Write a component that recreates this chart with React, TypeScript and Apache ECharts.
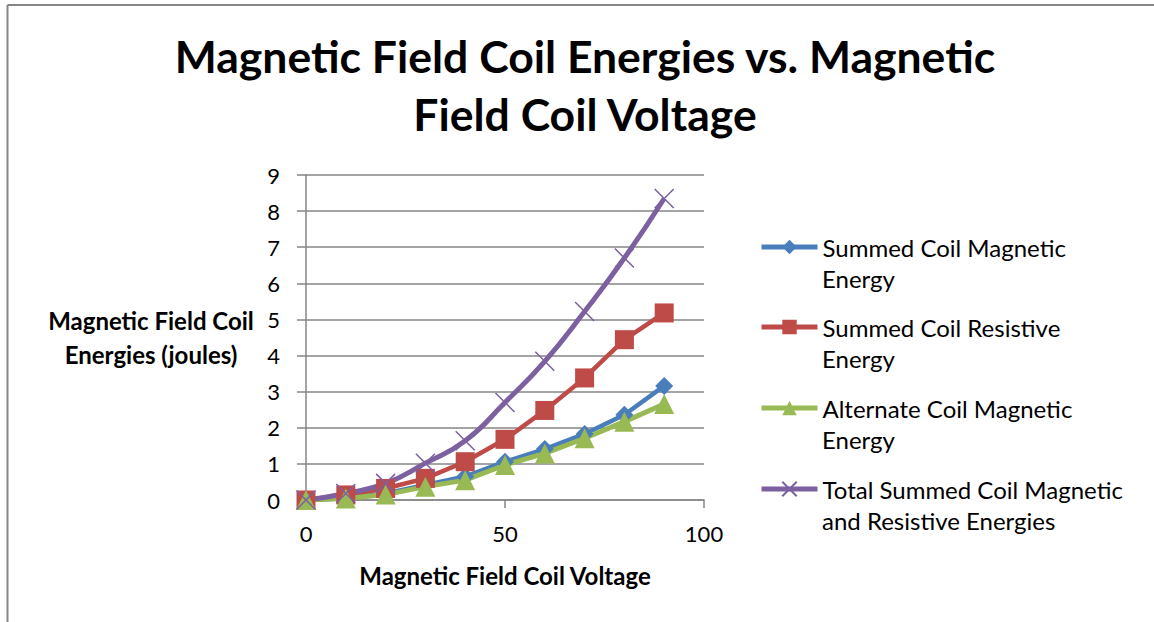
import React, { useEffect, useRef } from "react";
import * as echarts from "echarts";

const voltages = [0, 10, 20, 30, 40, 50, 60, 70, 80, 90];
const summedMagnetic = [0, 0.05, 0.18, 0.42, 0.65, 1.06, 1.41, 1.83, 2.36, 3.16];
const summedResistive = [0, 0.14, 0.32, 0.6, 1.06, 1.68, 2.48, 3.38, 4.44, 5.18];
const alternateMagnetic = [0, 0.04, 0.15, 0.37, 0.55, 0.97, 1.29, 1.71, 2.17, 2.66];
const totalEnergies = [0, 0.18, 0.46, 1.02, 1.64, 2.7, 3.84, 5.22, 6.7, 8.35];

const seriesNames = [
  "Summed Coil Magnetic Energy",
  "Summed Coil Resistive Energy",
  "Alternate Coil Magnetic Energy",
  "Total Summed Coil Magnetic and Resistive Energies",
];
const legendFirstLines = [
  "Summed Coil Magnetic",
  "Summed Coil Resistive",
  "Alternate Coil Magnetic",
  "Total Summed Coil Magnetic",
];
const legendSecondLines = ["Energy", "Energy", "Energy", "and Resistive Energies"];
const colors = ["#4A7EBB", "#BE4B48", "#98B954", "#7D60A0"];

const FONT = "Lato";
const GRAY = "#868686";

export default function App() {
  const ref = useRef<HTMLDivElement>(null);
  useEffect(() => {
    if (!ref.current) return;
    const chart = echarts.init(ref.current, undefined, { renderer: "svg" });
    const pair = (arr: number[]) => voltages.map((v, i) => [v, arr[i]]);
    const firstLineCenters = [247, 327, 408, 489];
    const option: any = {
      animation: false,
      backgroundColor: "#ffffff",
      textStyle: { fontFamily: FONT },
      title: {
        text: "Magnetic Field Coil Energies vs. Magnetic\nField Coil Voltage",
        left: 585,
        top: 26,
        padding: 0,
        textAlign: "center",
        textStyle: {
          fontFamily: FONT,
          fontSize: 44.5,
          fontWeight: "bold",
          color: "#000",
          lineHeight: 58,
        },
      },
      grid: { left: 306, right: 450, top: 175, bottom: 122 },
      xAxis: {
        type: "value",
        min: 0,
        max: 100,
        interval: 50,
        name: "Magnetic Field Coil Voltage",
        nameLocation: "middle",
        nameGap: 75,
        nameTextStyle: {
          fontFamily: FONT,
          fontSize: 24,
          fontWeight: "bold",
          color: "#000",
          verticalAlign: "middle",
        },
        axisLine: { show: true, lineStyle: { color: GRAY, width: 1.5 } },
        axisTick: { show: true, length: 8, lineStyle: { color: GRAY, width: 1.5 } },
        axisLabel: { fontFamily: FONT, fontSize: 22, color: "#000", margin: 22 },
        splitLine: { show: false },
      },
      yAxis: {
        type: "value",
        min: 0,
        max: 9,
        interval: 1,
        name: "Magnetic Field Coil\nEnergies (joules)",
        nameLocation: "middle",
        nameRotate: 0,
        nameGap: 155,
        nameTextStyle: {
          fontFamily: FONT,
          fontSize: 24,
          fontWeight: "bold",
          color: "#000",
          align: "center",
          verticalAlign: "middle",
          lineHeight: 34,
        },
        axisLine: { show: true, lineStyle: { color: GRAY, width: 1.5 } },
        axisTick: { show: true, length: 9, lineStyle: { color: GRAY, width: 1.5 } },
        axisLabel: { fontFamily: FONT, fontSize: 22, color: "#000", margin: 26 },
        splitLine: { show: true, lineStyle: { color: GRAY, width: 1.5 } },
      },
      legend: legendFirstLines.map((_, i) => ({
        data: [seriesNames[i]],
        left: 754,
        top: firstLineCenters[i] - 5 - 14,
        itemWidth: 56,
        itemHeight: 18,
        lineStyle: { width: 5 },
        formatter: () => legendFirstLines[i],
        textStyle: { fontFamily: FONT, fontSize: 24, color: "#000", lineHeight: 28 },
      })),
      graphic: [
        { type: "line", shape: { x1: 7.5, y1: 5, x2: 1154, y2: 5 }, style: { stroke: GRAY, lineWidth: 2 } },
        { type: "line", shape: { x1: 7.5, y1: 5, x2: 7.5, y2: 622 }, style: { stroke: GRAY, lineWidth: 2 } },
        ...legendSecondLines.map((t, i) => ({
          type: "text",
          left: 822,
          top: firstLineCenters[i] + 33 - 14,
          style: { text: t, fontFamily: FONT, fontSize: 24, fill: "#000" },
        })),
      ],
      series: [
        {
          name: seriesNames[0],
          type: "line",
          data: pair(summedMagnetic),
          symbol: "diamond",
          symbolSize: 18,
          lineStyle: { color: colors[0], width: 4.5 },
          itemStyle: { color: colors[0] },
        },
        {
          name: seriesNames[1],
          type: "line",
          data: pair(summedResistive),
          symbol: "rect",
          symbolSize: 19,
          lineStyle: { color: colors[1], width: 4.5 },
          itemStyle: { color: colors[1] },
        },
        {
          name: seriesNames[2],
          type: "line",
          data: pair(alternateMagnetic),
          symbol: "triangle",
          symbolSize: 20,
          lineStyle: { color: colors[2], width: 5 },
          itemStyle: { color: colors[2] },
        },
        {
          name: seriesNames[3],
          type: "line",
          data: pair(totalEnergies),
          smooth: true,
          symbol: "path://M0,0L10,10M10,0L0,10",
          symbolSize: 19,
          lineStyle: { color: colors[3], width: 5 },
          itemStyle: { color: "none", borderColor: colors[3], borderWidth: 1.5 },
        },
      ],
    };
    chart.setOption(option);
    return () => chart.dispose();
  }, []);
  return (
    <div
      ref={ref}
      style={{ position: "absolute", left: 0, top: 0, width: 1154, height: 622 }}
    />
  );
}
